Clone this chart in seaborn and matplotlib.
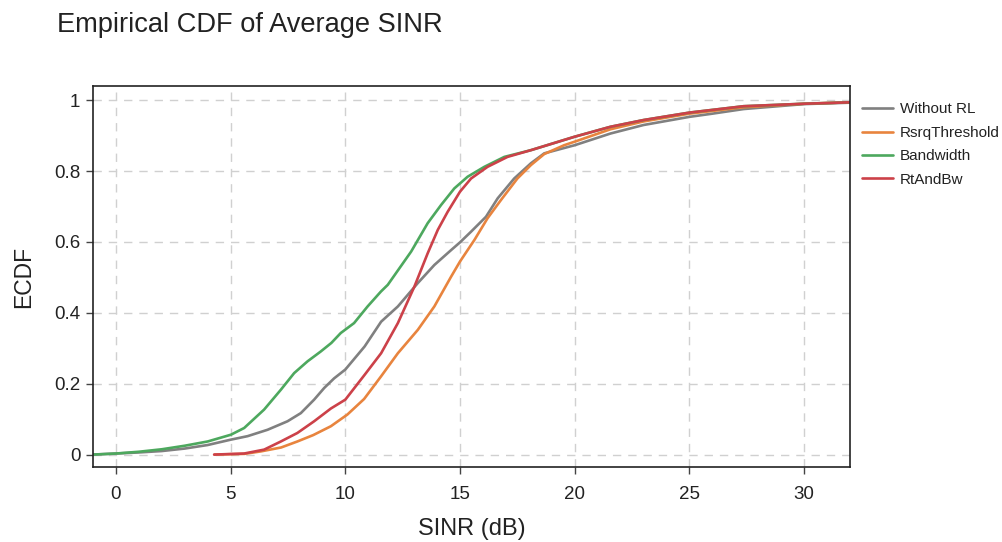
import matplotlib
matplotlib.use("Agg")
import matplotlib.pyplot as plt
import seaborn as sns
import pandas as pd

series_names = ["Without RL", "RsrqThreshold", "Bandwidth", "RtAndBw"]

without_rl_x = [-1, 0, 1, 2, 3, 4, 5, 5.74, 6.61, 7.48, 8.06, 8.64, 9.08, 9.51, 10, 10.84, 11.56,
                12.29, 13.16, 13.88, 14.61, 15, 15.48, 16.13, 16.64, 17.36, 18.09, 18.67, 20,
                21.56, 23, 25, 26, 27.36, 30, 32, 35]
without_rl_y = [0, 0.003, 0.006, 0.01, 0.017, 0.027, 0.042, 0.052, 0.07, 0.094, 0.117, 0.155,
                0.188, 0.215, 0.24, 0.305, 0.375, 0.418, 0.484, 0.535, 0.577, 0.599, 0.629,
                0.671, 0.723, 0.779, 0.822, 0.85, 0.873, 0.906, 0.93, 0.953, 0.962, 0.975,
                0.989, 0.993, 1.0]

rsrq_x = [4.3, 5.6, 6.32, 7.2, 7.91, 8.6, 9.37, 10.09, 10.82, 11.56, 12.29, 13.16, 13.88, 14.61,
          15, 15.63, 16.2, 16.78, 17.5, 18.09, 18.67, 19.54, 20, 21.56, 23, 25, 27.36, 30, 32, 35]
rsrq_y = [0, 0.002, 0.009, 0.02, 0.037, 0.055, 0.08, 0.113, 0.157, 0.221, 0.286, 0.352, 0.418,
          0.502, 0.545, 0.606, 0.667, 0.718, 0.779, 0.817, 0.848, 0.873, 0.883, 0.918, 0.94,
          0.962, 0.98, 0.99, 0.994, 1.0]

bandwidth_x = [-1, 0, 1, 2, 3, 4, 5.01, 5.59, 6.46, 7.19, 7.77, 8.35, 8.93, 9.39, 9.8, 10.38,
               10.97, 11.55, 11.85, 12.87, 13.59, 14.17, 14.75, 15.33, 16.06, 16.93, 18.09, 20,
               21.56, 23, 25, 27.36, 30, 32, 35]
bandwidth_y = [0, 0.003, 0.008, 0.015, 0.025, 0.037, 0.056, 0.075, 0.127, 0.183, 0.23, 0.263,
               0.291, 0.315, 0.343, 0.371, 0.418, 0.46, 0.479, 0.573, 0.653, 0.704, 0.751, 0.784,
               0.812, 0.84, 0.859, 0.897, 0.925, 0.944, 0.965, 0.983, 0.99, 0.994, 1.0]

rtandbw_x = [4.28, 5.59, 6.46, 7.19, 7.91, 8.64, 9.37, 10, 10.84, 11.56, 12.29, 13.01, 13.59,
             14.03, 14.46, 15, 15.48, 16.2, 17.07, 18.09, 20, 21.56, 23, 25, 27.36, 30, 32, 35]
rtandbw_y = [0, 0.003, 0.014, 0.037, 0.061, 0.094, 0.13, 0.155, 0.225, 0.286, 0.371, 0.474,
             0.568, 0.634, 0.685, 0.742, 0.779, 0.812, 0.84, 0.859, 0.897, 0.925, 0.944, 0.965,
             0.983, 0.99, 0.994, 1.0]

x_ticks = [0, 5, 10, 15, 20, 25, 30]
y_ticks = [0, 0.2, 0.4, 0.6, 0.8, 1.0]
y_tick_labels = ["0", "0.2", "0.4", "0.6", "0.8", "1"]

colors = ["#808080", "#E8843E", "#4DA85E", "#CC4149"]

frames = []
for name, xs, ys in zip(series_names,
                        [without_rl_x, rsrq_x, bandwidth_x, rtandbw_x],
                        [without_rl_y, rsrq_y, bandwidth_y, rtandbw_y]):
    frames.append(pd.DataFrame({"SINR": xs, "ECDF": ys, "Series": name}))
df = pd.concat(frames, ignore_index=True)

sns.set_theme(style="white")
plt.rcParams["font.family"] = ["Liberation Sans", "DejaVu Sans"]

fig = plt.figure(figsize=(10.03, 5.42), dpi=100)
ax = fig.add_axes([0.0927, 0.1384, 0.7548, 0.7029])

sns.lineplot(data=df, x="SINR", y="ECDF", hue="Series", hue_order=series_names,
             palette=colors, sort=False, estimator=None, linewidth=1.9, ax=ax)

ax.set_xlim(-1, 32)
ax.set_ylim(-0.035, 1.04)
ax.set_xticks(x_ticks)
ax.set_yticks(y_ticks)
ax.set_yticklabels(y_tick_labels)
ax.grid(True, color="#d0d0d0", linestyle=(0, (6, 5)), linewidth=1)
ax.set_axisbelow(True)
for s in ax.spines.values():
    s.set_color("#222222")
    s.set_linewidth(1.2)
ax.tick_params(axis="both", which="both", direction="out", length=5, width=1,
               color="#444444", labelsize=13.5, labelcolor="#222222", bottom=True, left=True)
ax.tick_params(axis="x", pad=8.5)
ax.tick_params(axis="y", pad=4)
ax.set_xlabel("SINR (dB)", fontsize=17, color="#222222", labelpad=11)
ax.set_ylabel("ECDF", fontsize=16.5, color="#222222", labelpad=14)

fig.text(0.057, 1 - 32 / 542, "Empirical CDF of Average SINR", fontsize=19.6, color="#222222",
         ha="left", va="baseline")

leg = ax.legend(loc="upper left", bbox_to_anchor=(1.002, 0.985), frameon=False,
                fontsize=11, handlelength=2.0, handletextpad=0.45, labelspacing=0.62,
                borderaxespad=0.3)
for t in leg.get_texts():
    t.set_color("#222222")

fig.savefig("out.png", dpi=100)
